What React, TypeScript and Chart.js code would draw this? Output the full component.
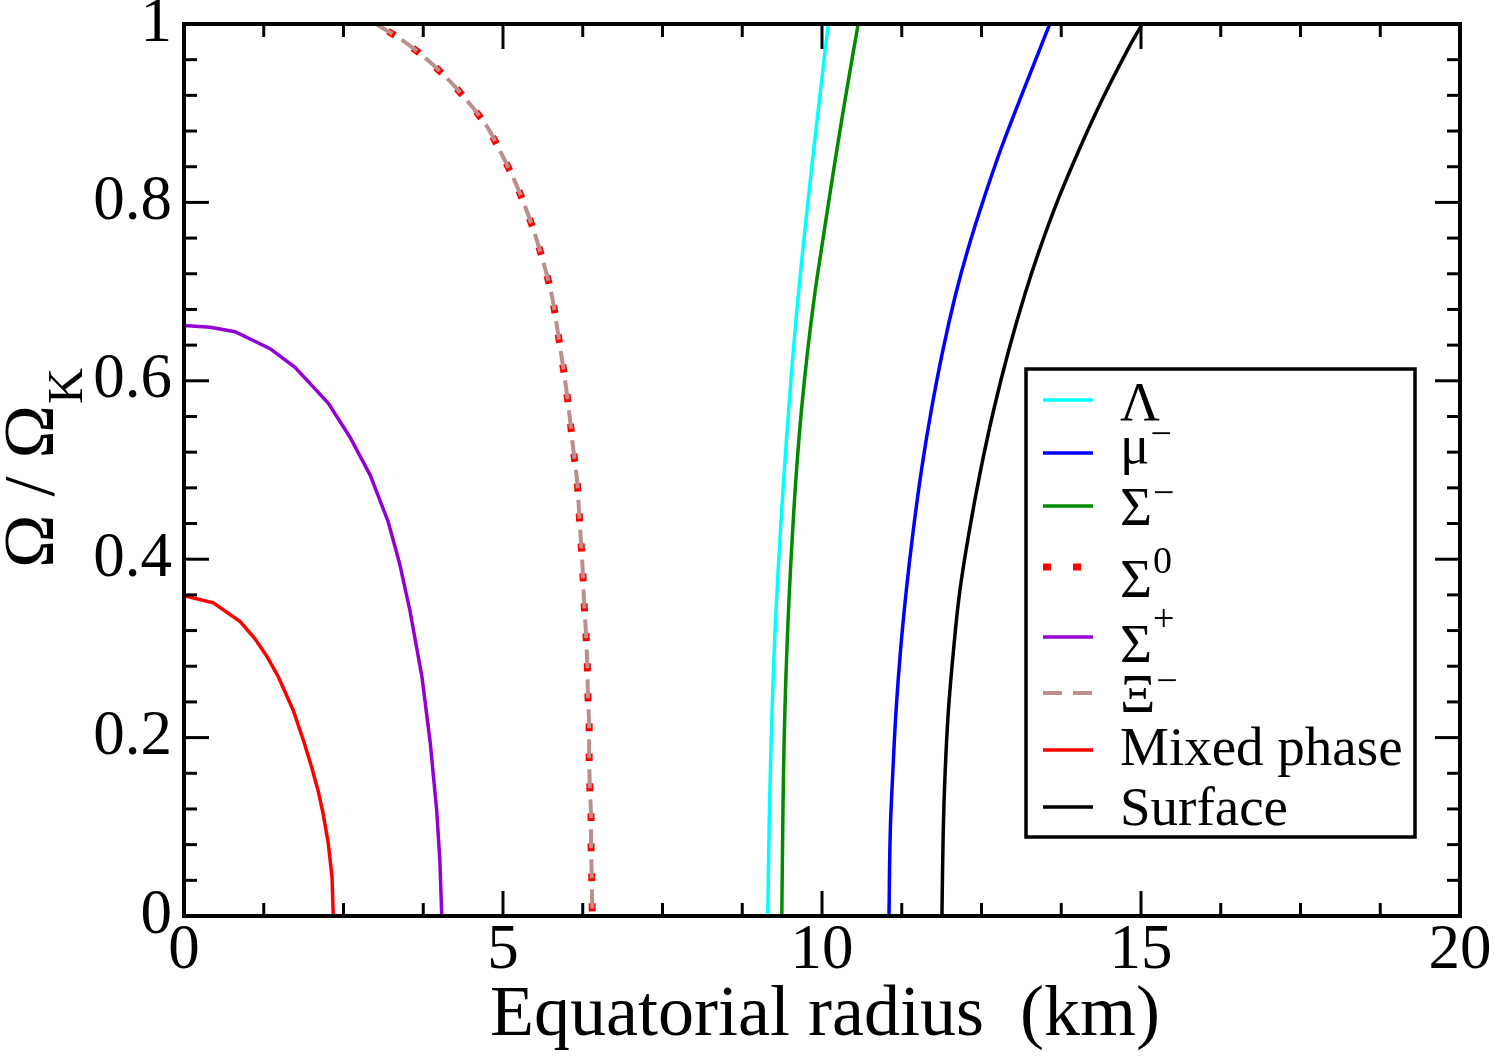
import { useEffect, useRef } from 'react';
import { Chart, registerables } from 'chart.js';

Chart.register(...registerables);

// Each curve: [equatorial radius (km), Ω / Ω_K]
const lambdaCurve: [number, number][] = [
  [9.15, 0], [9.17, 0.094], [9.19, 0.161], [9.217, 0.229], [9.251, 0.297], [9.295, 0.364],
  [9.349, 0.432], [9.409, 0.499], [9.477, 0.567], [9.552, 0.635], [9.63, 0.697], [9.7, 0.747],
  [9.784, 0.803], [9.87, 0.859], [9.96, 0.915], [10.05, 0.971], [10.1, 1.0],
];
const muCurve: [number, number][] = [
  [11.05, 0], [11.07, 0.094], [11.11, 0.161], [11.16, 0.229], [11.23, 0.297], [11.32, 0.364],
  [11.43, 0.432], [11.557, 0.499], [11.713, 0.567], [11.897, 0.635], [12.095, 0.697], [12.285, 0.747],
  [12.531, 0.803], [12.8, 0.859], [13.1, 0.915], [13.41, 0.971], [13.57, 1.0],
];
const sigmaMinusCurve: [number, number][] = [
  [9.37, 0], [9.384, 0.094], [9.397, 0.161], [9.418, 0.229], [9.449, 0.297], [9.489, 0.364],
  [9.54, 0.432], [9.6, 0.499], [9.678, 0.567], [9.777, 0.635], [9.886, 0.697], [9.99, 0.747],
  [10.11, 0.803], [10.233, 0.859], [10.362, 0.915], [10.496, 0.971], [10.567, 1.0],
];
const sigmaZeroCurve: [number, number][] = [
  [3.01, 1.0], [3.42, 0.982], [3.78, 0.962], [4.14, 0.938], [4.45, 0.913], [4.75, 0.885],
  [4.98, 0.854], [5.19, 0.823], [5.37, 0.791], [5.52, 0.76], [5.66, 0.726], [5.77, 0.694],
  [5.85, 0.659], [5.92, 0.626], [5.99, 0.592], [6.05, 0.557], [6.1, 0.524], [6.16, 0.489],
  [6.19, 0.456], [6.22, 0.422], [6.25, 0.387], [6.27, 0.352], [6.3, 0.318], [6.32, 0.285],
  [6.33, 0.25], [6.35, 0.215], [6.35, 0.18], [6.36, 0.147], [6.38, 0.112], [6.38, 0.08],
  [6.39, 0.045], [6.4, 0],
];
const sigmaPlusCurve: [number, number][] = [
  [0, 0.662], [0.41, 0.66], [0.8, 0.655], [1.35, 0.636], [1.74, 0.615], [2.26, 0.575],
  [2.6, 0.537], [2.92, 0.494], [3.2, 0.442], [3.38, 0.395], [3.54, 0.343], [3.73, 0.268],
  [3.86, 0.194], [3.96, 0.119], [4.01, 0.063], [4.04, 0],
];
const xiMinusCurve: [number, number][] = sigmaZeroCurve.map(([r, w]) => [r, w]);
const mixedPhaseCurve: [number, number][] = [
  [0, 0.359], [0.46, 0.351], [0.88, 0.33], [1.11, 0.311], [1.3, 0.291], [1.48, 0.268],
  [1.71, 0.231], [1.88, 0.195], [2.0, 0.167], [2.1, 0.141], [2.18, 0.115], [2.26, 0.082],
  [2.32, 0.044], [2.34, 0],
];
const surfaceCurve: [number, number][] = [
  [11.88, 0], [11.9, 0.094], [11.93, 0.161], [11.98, 0.229], [12.06, 0.297], [12.16, 0.364],
  [12.31, 0.432], [12.484, 0.499], [12.69, 0.567], [12.93, 0.635], [13.18, 0.697], [13.41, 0.747],
  [13.7, 0.803], [14.03, 0.859], [14.39, 0.915], [14.79, 0.971], [15.02, 1.0],
];

// Legend labels: main symbol and superscript
const seriesLabels = ['Λ', 'μ', 'Σ', 'Σ', 'Σ', 'Ξ', 'Mixed phase', 'Surface'];
const seriesSups = ['', '−', '−', '0', '+', '−', '', ''];

const xTickValues = [0, 5, 10, 15, 20];
const xTitle = 'Equatorial radius  (km)';

const SERIF = '"Liberation Serif", "Times New Roman", Times, serif';

// Line styles per series, in legend order
const styles = [
  { color: 'rgb(0,255,255)', width: 3.5, dash: [] as number[], dashOffset: 0, tension: 0.4 },
  { color: 'rgb(0,0,255)', width: 3.5, dash: [] as number[], dashOffset: 0, tension: 0.4 },
  { color: 'rgb(0,139,0)', width: 3.5, dash: [] as number[], dashOffset: 0, tension: 0.4 },
  { color: 'rgb(255,0,0)', width: 7, dash: [8, 22], dashOffset: 16, tension: 0.3 },
  { color: 'rgb(148,0,211)', width: 3.5, dash: [] as number[], dashOffset: 0, tension: 0 },
  { color: 'rgb(188,143,143)', width: 4, dash: [19, 11], dashOffset: 0, tension: 0.3 },
  { color: 'rgb(255,0,0)', width: 3.5, dash: [] as number[], dashOffset: 0, tension: 0 },
  { color: 'rgb(0,0,0)', width: 3.5, dash: [] as number[], dashOffset: 0, tension: 0.4 },
];

const curves = [
  lambdaCurve, muCurve, sigmaMinusCurve, sigmaZeroCurve,
  sigmaPlusCurve, xiMinusCurve, mixedPhaseCurve, surfaceCurve,
];

// drawing order: the dotted Σ0 line sits under the dashed Ξ- line
const drawOrder = [1, 1, 1, 3, 1, 2, 1, 1];

// Legend box geometry (canvas pixels)
const legendBox = { left: 1026, top: 369, right: 1415, bottom: 837 };
const legendLineY = [400, 453, 506, 567, 637, 693, 750, 807];
const legendBaseY = [420, 463, 525, 597, 662, 712, 765, 825];
const legendSupRaise = [0, 17, 20, 24, 31, 19, 0, 0];

const framePlugin = {
  id: 'frameTicks',
  afterDatasetsDraw(chart: any) {
    const { ctx, chartArea: a } = chart;
    const xs = chart.scales.x;
    const ys = chart.scales.y;
    ctx.save();
    ctx.strokeStyle = '#000';
    ctx.lineCap = 'butt';
    ctx.lineWidth = 3;
    const seg = (x1: number, y1: number, x2: number, y2: number) => {
      ctx.beginPath();
      ctx.moveTo(x1, y1);
      ctx.lineTo(x2, y2);
      ctx.stroke();
    };
    for (let i = 0; i <= 16; i++) {
      const v = i * 1.25;
      const px = xs.getPixelForValue(v);
      const len = i % 4 === 0 ? 25 : 13;
      seg(px, a.bottom, px, a.bottom - len);
      seg(px, a.top, px, a.top + len);
    }
    for (let i = 0; i <= 25; i++) {
      const v = i * 0.04;
      const py = ys.getPixelForValue(v);
      const len = i % 5 === 0 ? 25 : 13;
      seg(a.left, py, a.left + len, py);
      seg(a.right, py, a.right - len, py);
    }
    ctx.lineWidth = 4;
    ctx.strokeRect(a.left, a.top, a.right - a.left, a.bottom - a.top);
    ctx.restore();
  },
};

const titlePlugin = {
  id: 'axisTitles',
  afterDraw(chart: any) {
    const { ctx, chartArea: a } = chart;
    ctx.save();
    ctx.fillStyle = '#000';
    // x-axis title
    ctx.font = `72px ${SERIF}`;
    ctx.textAlign = 'center';
    ctx.textBaseline = 'alphabetic';
    ctx.fillText(xTitle, (a.left + a.right) / 2 + 3, 1035);
    // y-axis title: Ω / Ω with subscript K, rotated
    ctx.translate(53, 568);
    ctx.rotate(-Math.PI / 2);
    ctx.textAlign = 'left';
    ctx.font = `72px ${SERIF}`;
    const main = 'Ω / Ω';
    ctx.fillText(main, 0, 0);
    const w = ctx.measureText(main).width;
    ctx.font = `50px ${SERIF}`;
    ctx.fillText('K', w + 1, 29);
    ctx.restore();
  },
};

const legendPlugin = {
  id: 'customLegend',
  afterDraw(chart: any) {
    const { ctx } = chart;
    const b = legendBox;
    ctx.save();
    ctx.fillStyle = '#fff';
    ctx.fillRect(b.left, b.top, b.right - b.left, b.bottom - b.top);
    ctx.strokeStyle = '#000';
    ctx.lineWidth = 3.5;
    ctx.strokeRect(b.left, b.top, b.right - b.left, b.bottom - b.top);
    seriesLabels.forEach((label, i) => {
      const st = styles[i];
      const ly = legendLineY[i];
      ctx.strokeStyle = st.color;
      ctx.lineWidth = st.width;
      ctx.setLineDash(st.dash);
      ctx.lineDashOffset = 0;
      ctx.beginPath();
      ctx.moveTo(1043, ly);
      ctx.lineTo(1093, ly);
      ctx.stroke();
      ctx.setLineDash([]);
      ctx.fillStyle = '#000';
      ctx.textAlign = 'left';
      ctx.textBaseline = 'alphabetic';
      ctx.font = `55px ${SERIF}`;
      const base = legendBaseY[i];
      ctx.fillText(label, 1120, base);
      if (seriesSups[i]) {
        const w = ctx.measureText(label).width;
        ctx.font = `38px ${SERIF}`;
        ctx.fillText(seriesSups[i], 1120 + w + 1, base - legendSupRaise[i]);
      }
    });
    ctx.restore();
  },
};

export default function App() {
  const canvasRef = useRef<HTMLCanvasElement | null>(null);

  useEffect(() => {
    const canvas = canvasRef.current;
    if (!canvas) return;
    const datasets = curves.map((c, i) => ({
      label: seriesLabels[i] + seriesSups[i],
      data: c.map(([x, y]) => ({ x, y })),
      borderColor: styles[i].color,
      backgroundColor: styles[i].color,
      borderWidth: styles[i].width,
      borderDash: styles[i].dash,
      borderDashOffset: styles[i].dashOffset,
      borderCapStyle: 'butt' as const,
      pointRadius: 0,
      tension: styles[i].tension,
      fill: false,
      showLine: true,
      order: drawOrder[i],
    }));

    const chart = new Chart(canvas, {
      type: 'line',
      data: { datasets },
      plugins: [framePlugin, legendPlugin, titlePlugin],
      options: {
        animation: false,
        responsive: false,
        devicePixelRatio: 1,
        parsing: false,
        normalized: true,
        layout: { padding: { top: 24, right: 34, left: 0, bottom: 0 } },
        plugins: {
          legend: { display: false },
          tooltip: { enabled: false },
          title: { display: false },
        },
        scales: {
          x: {
            type: 'linear',
            min: 0,
            max: 20,
            grid: { display: false, drawTicks: false },
            border: { display: false },
            afterBuildTicks: (scale: any) => {
              scale.ticks = xTickValues.map((v) => ({ value: v }));
            },
            afterFit: (scale: any) => {
              scale.height = 141;
              scale.paddingLeft = 0;
              scale.paddingRight = 0;
              scale.paddingTop = 0;
              scale.paddingBottom = 0;
            },
            ticks: {
              autoSkip: false,
              maxRotation: 0,
              minRotation: 0,
              padding: 4,
              color: '#000',
              font: { family: SERIF, size: 63, lineHeight: 1 },
              callback: (v: any) => String(v),
            },
          },
          y: {
            type: 'linear',
            min: 0,
            max: 1,
            grid: { display: false, drawTicks: false },
            border: { display: false },
            afterFit: (scale: any) => {
              scale.width = 184;
              scale.paddingLeft = 0;
              scale.paddingRight = 0;
              scale.paddingTop = 0;
              scale.paddingBottom = 0;
            },
            ticks: {
              stepSize: 0.2,
              padding: 12,
              color: '#000',
              font: { family: SERIF, size: 63, lineHeight: 1 },
              callback: (v: any) => String(Math.round(Number(v) * 10) / 10),
            },
          },
        },
      } as any,
    });
    return () => chart.destroy();
  }, []);

  return (
    <div style={{ position: 'absolute', left: 0, top: 0, width: 1494, height: 1057, background: '#fff' }}>
      <canvas ref={canvasRef} width={1494} height={1057} style={{ display: 'block' }} />
    </div>
  );
}
